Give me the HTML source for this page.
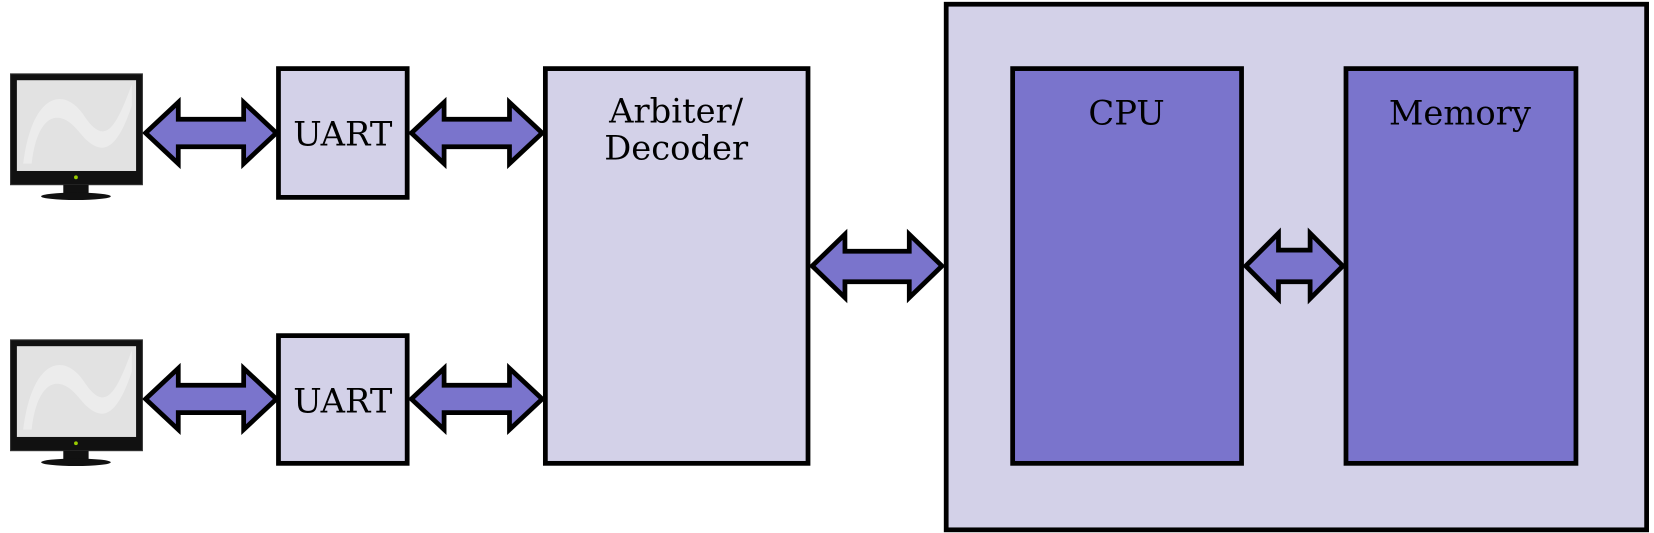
<!DOCTYPE html>
<html><head><meta charset="utf-8"><style>
html,body{margin:0;padding:0;background:#fff;width:1654px;height:533px;overflow:hidden}
svg{display:block}
text{font-family:"DejaVu Serif","Liberation Serif",serif;font-size:32px;fill:#000}
</style></head><body>
<svg width="1654" height="533" viewBox="0 0 1568 505" preserveAspectRatio="none" xmlns="http://www.w3.org/2000/svg">
<defs>
<g id="mon">
<rect x="10" y="70" width="125" height="105" fill="#111" stroke="#333" stroke-width="1"/>
<rect x="16" y="76" width="113" height="86" fill="#e2e2e2"/>
<path d="M22,155 C30,90 60,80 80,110 C100,140 110,120 125,80 L125,100 C110,145 95,150 75,125 C55,100 35,110 30,155 Z" fill="#ececec"/>
<rect x="60" y="175" width="24" height="8" fill="#111"/>
<ellipse cx="72" cy="186" rx="33" ry="3.5" fill="#111"/>
<circle cx="72" cy="168" r="1.8" fill="#9c0"/>
</g>
</defs>
<rect x="0" y="0" width="1568" height="505" fill="#fff"/>
<use href="#mon"/>
<use href="#mon" y="252"/>
<g stroke="#000" stroke-width="4.5" fill="#d3d1e8">
<rect x="264" y="65" width="122" height="122"/>
<rect x="264" y="318" width="122" height="121"/>
<rect x="517" y="65" width="249" height="374"/>
<rect x="897" y="4" width="664" height="498"/>
</g>
<g stroke="#000" stroke-width="4.5" fill="#7a74cc">
<rect x="960" y="65" width="217" height="374"/>
<rect x="1276" y="65" width="218" height="374"/>
</g>
<g stroke="#000" stroke-width="4.5" fill="#7a74cc" stroke-linejoin="miter">
<path d="M138,126 L169,97 L169,113 L231,113 L231,97 L262,126 L231,155 L231,139 L169,139 L169,155Z"/>
<path d="M390,126 L421,97 L421,113 L483,113 L483,97 L514,126 L483,155 L483,139 L421,139 L421,155Z"/>
<path d="M138,378 L169,349 L169,365 L231,365 L231,349 L262,378 L231,407 L231,391 L169,391 L169,407Z"/>
<path d="M390,378 L421,349 L421,365 L483,365 L483,349 L514,378 L483,407 L483,391 L421,391 L421,407Z"/>
<path d="M770,252 L801,222 L801,238 L862,238 L862,222 L893,252 L862,282 L862,267 L801,267 L801,282Z"/>
<path d="M1181,252 L1212,221 L1212,237 L1242,237 L1242,221 L1273,252 L1242,283 L1242,267 L1212,267 L1212,283Z"/>
</g>
<text x="325" y="138" text-anchor="middle">UART</text>
<text x="325" y="391" text-anchor="middle">UART</text>
<text x="641" y="116" text-anchor="middle">Arbiter/</text>
<text x="641" y="151" text-anchor="middle">Decoder</text>
<text x="1068" y="118" text-anchor="middle">CPU</text>
<text x="1384" y="118" text-anchor="middle">Memory</text>
</svg>
</body></html>
